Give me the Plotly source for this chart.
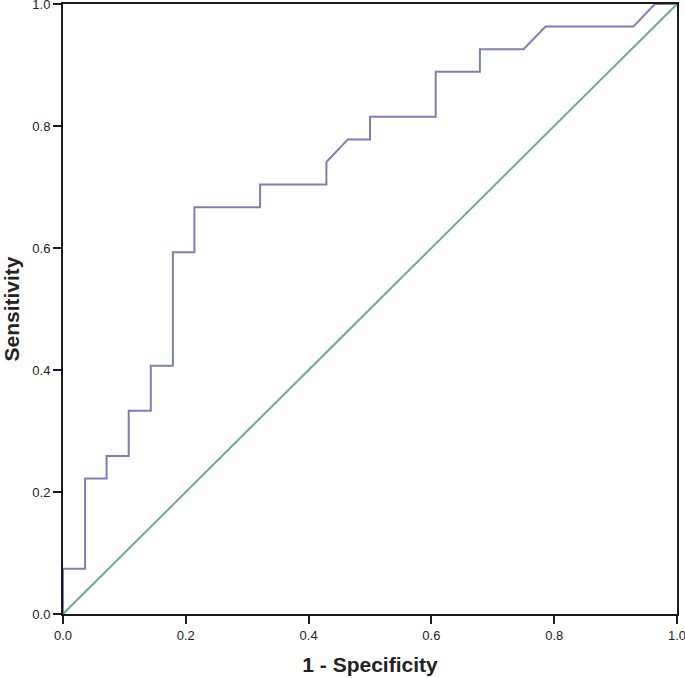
import plotly.graph_objects as go

# ROC curve points (1 - Specificity, Sensitivity)
fpr = [0.0, 0.0, 0.036, 0.036, 0.071, 0.071, 0.107, 0.107, 0.143, 0.143,
       0.179, 0.179, 0.214, 0.214, 0.321, 0.321, 0.429, 0.429, 0.464, 0.5,
       0.5, 0.607, 0.607, 0.679, 0.679, 0.75, 0.786, 0.929, 0.964, 1.0]
tpr = [0.0, 0.074, 0.074, 0.222, 0.222, 0.259, 0.259, 0.333, 0.333, 0.407,
       0.407, 0.593, 0.593, 0.667, 0.667, 0.704, 0.704, 0.741, 0.778, 0.778,
       0.815, 0.815, 0.889, 0.889, 0.926, 0.926, 0.963, 0.963, 1.0, 1.0]
ref_x = [0.0, 1.0]
ref_y = [0.0, 1.0]
tick_vals = [0.0, 0.2, 0.4, 0.6, 0.8, 1.0]

fig = go.Figure()
fig.add_trace(go.Scatter(x=ref_x, y=ref_y, mode="lines",
                         line=dict(color="#72ab8c", width=2), showlegend=False))
fig.add_trace(go.Scatter(x=fpr, y=tpr, mode="lines",
                         line=dict(color="#7b7fb3", width=2), showlegend=False))

axis_common = dict(
    range=[0, 1], tickvals=tick_vals, tickformat=".1f",
    showgrid=False, zeroline=False, automargin=False,
    showline=True, linecolor="#1a1a1a", linewidth=2, mirror=True,
    ticks="outside", ticklen=8, tickwidth=2, tickcolor="#1a1a1a",
    ticklabeloverflow="allow",
    tickfont=dict(family="Liberation Sans, Arial", size=13, color="#222222"),
)

fig.update_layout(
    width=685, height=678,
    margin=dict(l=63, r=8, t=4, b=64),
    paper_bgcolor="white", plot_bgcolor="white",
    xaxis=dict(**axis_common,
               title=dict(text="<b>1 - Specificity</b>", standoff=16,
                          font=dict(family="Liberation Sans, Arial", size=21, color="#222222"))),
    yaxis=dict(**axis_common,
               title=dict(text="<b>Sensitivity</b>", standoff=8,
                          font=dict(family="Liberation Sans, Arial", size=21, color="#222222"))),
)

fig.write_html("out.html", config={"displayModeBar": False},
               post_script="document.body.style.margin='0';")
